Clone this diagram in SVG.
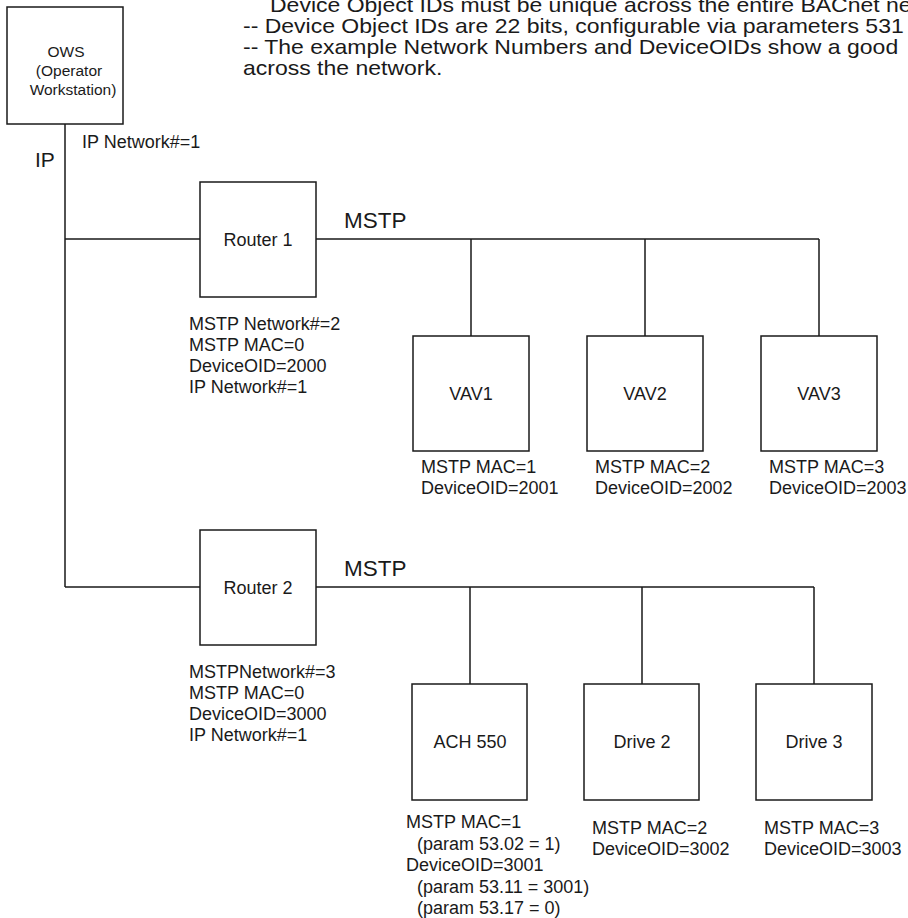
<svg xmlns="http://www.w3.org/2000/svg" width="908" height="918" viewBox="0 0 908 918">
<style>
.box{fill:#fff;stroke:#1a1a1a;stroke-width:1.5}
.wire{fill:none;stroke:#1a1a1a;stroke-width:1.5}
text{font-family:"Liberation Sans",Arial,sans-serif;fill:#1a1a1a}
.lbl{font-size:18px}
.ctr{text-anchor:middle}
.big{font-size:22.5px}
.note{font-size:20px}
.ows{font-size:15.5px}
</style>
<rect width="908" height="918" fill="#fff"/>
<g id="note" class="note" transform="scale(1.15,1)">
<text x="234.8" y="12">Device Object IDs must be unique across the entire BACnet ne</text>
<text x="211.3" y="33">-- Device Object IDs are 22 bits, configurable via parameters 531</text>
<text x="211.3" y="54">-- The example Network Numbers and DeviceOIDs show a good</text>
<text x="211.3" y="75">across the network.</text>
</g>
<g id="connectors" class="wire">
<path d="M65,124 V587 M65,239 H200 M65,587 H200"/>
<path d="M316,239 H819 M471,239 V336 M645,239 V336 M819,239 V336"/>
<path d="M316,587 H814 M470,587 V684 M642,587 V684 M814,587 V684"/>
</g>
<g id="labels" class="lbl">
<text x="82" y="148">IP Network#=1</text>
<text x="35" y="167" style="font-size:21px">IP</text>
<text x="344" y="228" class="big">MSTP</text>
<text x="344" y="576" class="big">MSTP</text>
</g>
<g id="ows">
<rect class="box" x="7" y="7" width="116" height="117"/>
<text class="ows ctr" x="66" y="57">OWS</text>
<text class="ows ctr" x="69" y="76">(Operator</text>
<text class="ows ctr" x="73" y="95">Workstation)</text>
</g>
<g id="router1">
<rect class="box" x="200" y="182" width="116" height="115"/>
<text class="lbl ctr" x="258" y="246">Router 1</text>
<text class="lbl" x="189" y="330">MSTP Network#=2</text>
<text class="lbl" x="189" y="351">MSTP MAC=0</text>
<text class="lbl" x="189" y="372">DeviceOID=2000</text>
<text class="lbl" x="189" y="393">IP Network#=1</text>
</g>
<g id="vav1">
<rect class="box" x="413" y="336" width="116" height="115"/>
<text class="lbl ctr" x="471" y="400">VAV1</text>
<text class="lbl" x="421" y="473">MSTP MAC=1</text>
<text class="lbl" x="421" y="494">DeviceOID=2001</text>
</g>
<g id="vav2">
<rect class="box" x="587" y="336" width="116" height="115"/>
<text class="lbl ctr" x="645" y="400">VAV2</text>
<text class="lbl" x="595" y="473">MSTP MAC=2</text>
<text class="lbl" x="595" y="494">DeviceOID=2002</text>
</g>
<g id="vav3">
<rect class="box" x="761" y="336" width="116" height="115"/>
<text class="lbl ctr" x="819" y="400">VAV3</text>
<text class="lbl" x="769" y="473">MSTP MAC=3</text>
<text class="lbl" x="769" y="494">DeviceOID=2003</text>
</g>
<g id="router2">
<rect class="box" x="200" y="530" width="116" height="115"/>
<text class="lbl ctr" x="258" y="594">Router 2</text>
<text class="lbl" x="189" y="678">MSTPNetwork#=3</text>
<text class="lbl" x="189" y="699">MSTP MAC=0</text>
<text class="lbl" x="189" y="720">DeviceOID=3000</text>
<text class="lbl" x="189" y="741">IP Network#=1</text>
</g>
<g id="ach550">
<rect class="box" x="412" y="684" width="115" height="116"/>
<text class="lbl ctr" x="470" y="748">ACH 550</text>
<text class="lbl" x="406" y="828">MSTP MAC=1</text>
<text class="lbl" x="417" y="850">(param 53.02 = 1)</text>
<text class="lbl" x="406" y="871">DeviceOID=3001</text>
<text class="lbl" x="417" y="893">(param 53.11 = 3001)</text>
<text class="lbl" x="417" y="914">(param 53.17 = 0)</text>
</g>
<g id="drive2">
<rect class="box" x="584" y="684" width="115" height="116"/>
<text class="lbl ctr" x="642" y="748">Drive 2</text>
<text class="lbl" x="592" y="834">MSTP MAC=2</text>
<text class="lbl" x="592" y="855">DeviceOID=3002</text>
</g>
<g id="drive3">
<rect class="box" x="756" y="684" width="116" height="116"/>
<text class="lbl ctr" x="814" y="748">Drive 3</text>
<text class="lbl" x="764" y="834">MSTP MAC=3</text>
<text class="lbl" x="764" y="855">DeviceOID=3003</text>
</g>
</svg>
